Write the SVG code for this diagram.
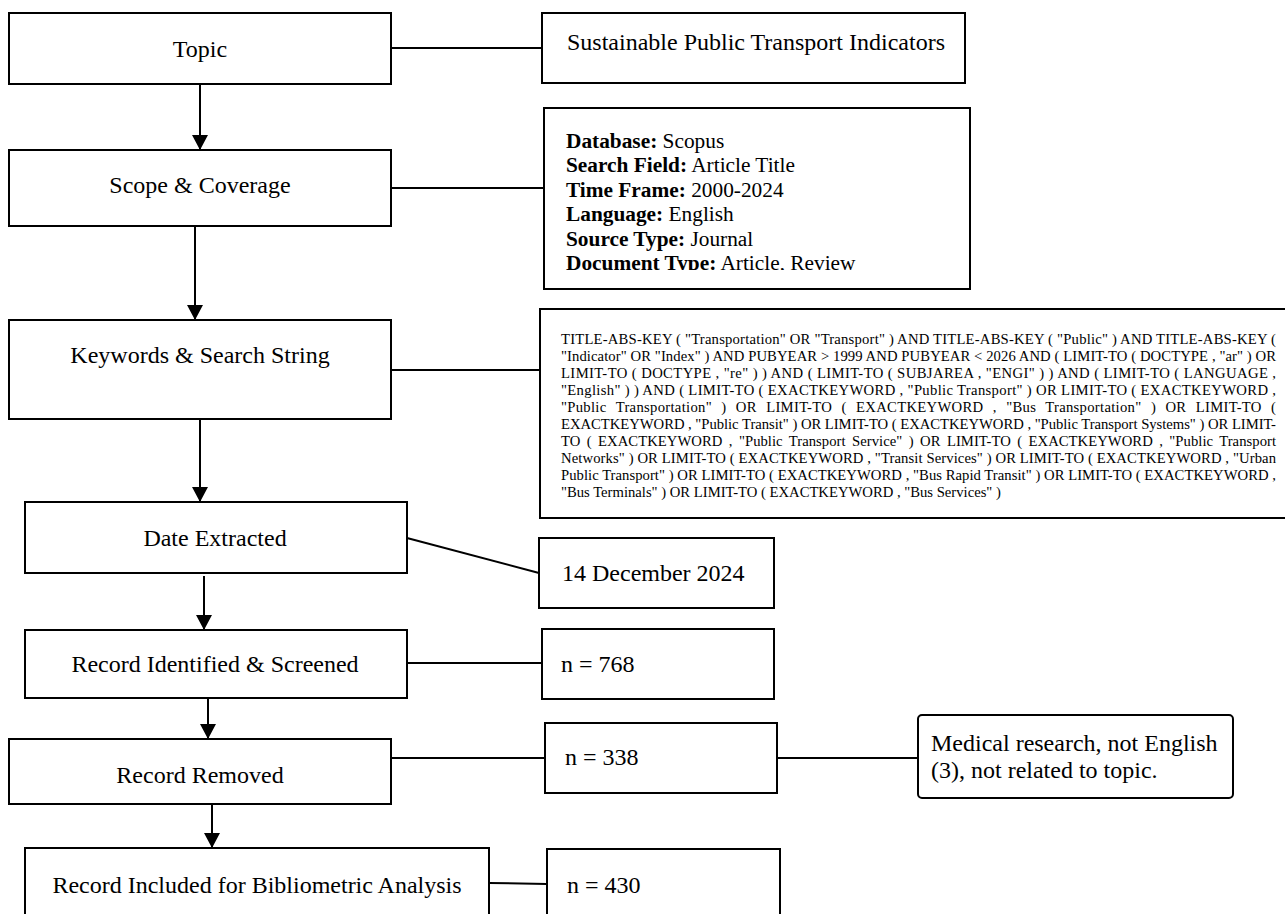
<svg xmlns="http://www.w3.org/2000/svg" width="1285" height="914" viewBox="0 0 1285 914">
  <style>
    .box { fill: #fff; stroke: #000; stroke-width: 2; }
    .link { fill: none; stroke: #000; stroke-width: 2; }
    .lbl { font-family: "Liberation Serif", "Times New Roman", serif; font-size: 24px; fill: #000; }
    .mid { text-anchor: middle; }
    .db { font-size: 21.33px; }
    .b { font-weight: bold; }
    .qs { font-family: "Liberation Serif", "Times New Roman", serif; font-size: 14.67px; fill: #000; }
  </style>
  <defs>
    <marker id="arrow" markerUnits="userSpaceOnUse" markerWidth="16" markerHeight="16" refX="15" refY="8" orient="auto">
      <path d="M0,0 L15,8 L0,16 Z" fill="#000"/>
    </marker>
    <clipPath id="dbClip">
      <rect x="545" y="109" width="424" height="161"/>
    </clipPath>
  </defs>
  <rect width="1285" height="914" fill="#fff"/>

  <!-- connectors -->
  <g id="connectors">
    <line class="link" x1="200" y1="84" x2="200" y2="150" marker-end="url(#arrow)"/>
    <line class="link" x1="195" y1="226" x2="195" y2="320" marker-end="url(#arrow)"/>
    <line class="link" x1="200" y1="419" x2="200" y2="502" marker-end="url(#arrow)"/>
    <line class="link" x1="204" y1="576" x2="204" y2="630" marker-end="url(#arrow)"/>
    <line class="link" x1="208" y1="698" x2="208" y2="739" marker-end="url(#arrow)"/>
    <line class="link" x1="212" y1="804" x2="212" y2="848" marker-end="url(#arrow)"/>

    <line class="link" x1="391" y1="48" x2="542" y2="48"/>
    <line class="link" x1="391" y1="188" x2="544" y2="188"/>
    <line class="link" x1="391" y1="370" x2="540" y2="370"/>
    <line class="link" x1="407" y1="538" x2="539" y2="573"/>
    <line class="link" x1="407" y1="663" x2="542" y2="663"/>
    <line class="link" x1="391" y1="758" x2="545" y2="758"/>
    <line class="link" x1="777" y1="758" x2="918" y2="758"/>
    <line class="link" x1="489" y1="883" x2="547" y2="884"/>
  </g>

  <!-- main flow -->
  <g id="topic">
    <rect class="box" x="9" y="13" width="382" height="71"/>
    <text class="lbl mid" x="200" y="57">Topic</text>
  </g>
  <g id="scope">
    <rect class="box" x="9" y="150" width="382" height="76"/>
    <text class="lbl mid" x="200" y="193">Scope &amp; Coverage</text>
  </g>
  <g id="keywords">
    <rect class="box" x="9" y="320" width="382" height="99"/>
    <text class="lbl mid" x="200" y="363">Keywords &amp; Search String</text>
  </g>
  <g id="date-extracted">
    <rect class="box" x="25" y="502" width="382" height="71"/>
    <text class="lbl mid" x="215" y="546">Date Extracted</text>
  </g>
  <g id="identified">
    <rect class="box" x="25" y="630" width="382" height="68"/>
    <text class="lbl mid" x="215" y="672">Record Identified &amp; Screened</text>
  </g>
  <g id="removed">
    <rect class="box" x="9" y="739" width="382" height="65"/>
    <text class="lbl mid" x="200" y="783">Record Removed</text>
  </g>
  <g id="included">
    <rect class="box" x="25" y="848" width="464" height="80"/>
    <text class="lbl mid" x="257" y="893">Record Included for Bibliometric Analysis</text>
  </g>

  <!-- detail boxes -->
  <g id="topic-detail">
    <rect class="box" x="542" y="13" width="423" height="70"/>
    <text class="lbl mid" x="756" y="50">Sustainable Public Transport Indicators</text>
  </g>
  <g id="scope-detail">
    <rect class="box" x="544" y="108" width="426" height="181"/>
    <g clip-path="url(#dbClip)">
      <text class="lbl db" x="566" y="147.5"><tspan class="b">Database:</tspan> Scopus</text>
      <text class="lbl db" x="566" y="172"><tspan class="b">Search Field:</tspan> Article Title</text>
      <text class="lbl db" x="566" y="196.5"><tspan class="b">Time Frame:</tspan> 2000-2024</text>
      <text class="lbl db" x="566" y="221"><tspan class="b">Language:</tspan> English</text>
      <text class="lbl db" x="566" y="245.5"><tspan class="b">Source Type:</tspan> Journal</text>
      <text class="lbl db" x="566" y="270"><tspan class="b">Document Type:</tspan> Article, Review</text>
    </g>
  </g>
  <g id="search-string">
    <rect class="box" x="540" y="309" width="750" height="209"/>
    <text class="qs" x="561" y="344" textLength="715" lengthAdjust="spacing">TITLE-ABS-KEY ( "Transportation" OR "Transport" ) AND TITLE-ABS-KEY ( "Public" ) AND TITLE-ABS-KEY (</text>
    <text class="qs" x="561" y="361" textLength="715" lengthAdjust="spacing">"Indicator" OR "Index" ) AND PUBYEAR &gt; 1999 AND PUBYEAR &lt; 2026 AND ( LIMIT-TO ( DOCTYPE , "ar" ) OR</text>
    <text class="qs" x="561" y="378" textLength="715" lengthAdjust="spacing">LIMIT-TO ( DOCTYPE , "re" ) ) AND ( LIMIT-TO ( SUBJAREA , "ENGI" ) ) AND ( LIMIT-TO ( LANGUAGE ,</text>
    <text class="qs" x="561" y="395" textLength="715" lengthAdjust="spacing">"English" ) ) AND ( LIMIT-TO ( EXACTKEYWORD , "Public Transport" ) OR LIMIT-TO ( EXACTKEYWORD ,</text>
    <text class="qs" x="561" y="412" word-spacing="5.4" textLength="715" lengthAdjust="spacing">"Public Transportation" ) OR LIMIT-TO ( EXACTKEYWORD , "Bus Transportation" ) OR LIMIT-TO (</text>
    <text class="qs" x="561" y="429" textLength="715" lengthAdjust="spacing">EXACTKEYWORD , "Public Transit" ) OR LIMIT-TO ( EXACTKEYWORD , "Public Transport Systems" ) OR LIMIT-</text>
    <text class="qs" x="561" y="446" word-spacing="2.7" textLength="715" lengthAdjust="spacing">TO ( EXACTKEYWORD , "Public Transport Service" ) OR LIMIT-TO ( EXACTKEYWORD , "Public Transport</text>
    <text class="qs" x="561" y="463" textLength="715" lengthAdjust="spacing">Networks" ) OR LIMIT-TO ( EXACTKEYWORD , "Transit Services" ) OR LIMIT-TO ( EXACTKEYWORD , "Urban</text>
    <text class="qs" x="561" y="480" textLength="715" lengthAdjust="spacing">Public Transport" ) OR LIMIT-TO ( EXACTKEYWORD , "Bus Rapid Transit" ) OR LIMIT-TO ( EXACTKEYWORD ,</text>
    <text class="qs" x="561" y="497">"Bus Terminals" ) OR LIMIT-TO ( EXACTKEYWORD , "Bus Services" )</text>
  </g>
  <g id="date-value">
    <rect class="box" x="539" y="538" width="235" height="70"/>
    <text class="lbl" x="562" y="581">14 December 2024</text>
  </g>
  <g id="n-identified">
    <rect class="box" x="542" y="629" width="232" height="70"/>
    <text class="lbl" x="561" y="672">n = 768</text>
  </g>
  <g id="n-removed">
    <rect class="box" x="545" y="723" width="232" height="70"/>
    <text class="lbl" x="565" y="765">n = 338</text>
  </g>
  <g id="removal-reasons">
    <rect class="box" x="918" y="715" width="315" height="83" rx="4" ry="4"/>
    <text class="lbl" x="931" y="751">Medical research, not English</text>
    <text class="lbl" x="931" y="778">(3), not related to topic.</text>
  </g>
  <g id="n-included">
    <rect class="box" x="547" y="849" width="233" height="80"/>
    <text class="lbl" x="567" y="893">n = 430</text>
  </g>
</svg>
